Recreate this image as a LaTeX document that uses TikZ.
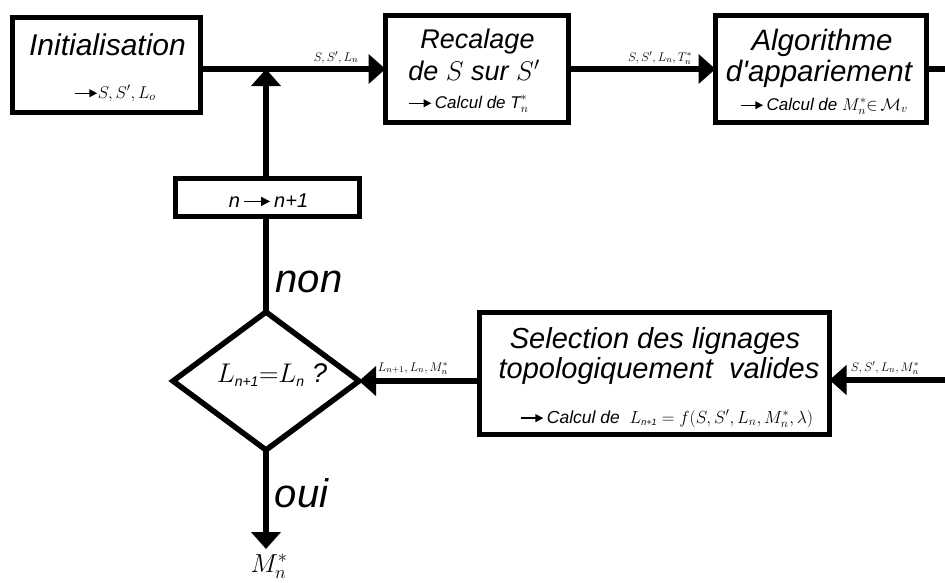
\RequirePackage{fix-cm}
\documentclass[tikz,border=0pt]{standalone}
\usepackage{amsmath}
\usepackage[no-math]{fontspec}
\setmainfont{Liberation Sans}
\usetikzlibrary{arrows.meta,shapes.geometric}
\newcommand{\rarr}{\tikz[baseline=-0.28em]\draw[line width=0.08em,-{Triangle[length=0.45em,width=0.45em]}] (0,0) -- (1.3em,0);}
\newcommand{\fs}[1]{\fontsize{#1}{#1}\selectfont}
\newcommand{\isub}[2]{\mbox{\fs{#1}\itshape #2}}
\begin{document}
\begin{tikzpicture}[x=1pt,y=-1pt,
  box/.style={draw,line width=5.5pt,rectangle,inner sep=0pt,outer sep=0pt},
  conn/.style={line width=6.5pt,-{Triangle[length=17pt,width=29pt]}},
  plain/.style={line width=6.5pt},
  txt/.style={inner sep=0pt,anchor=base,font=\itshape},
  lab/.style={inner sep=0pt,anchor=base}]
\useasboundingbox (0,0) rectangle (945,582);
% boxes
\node[box,minimum width=188pt,minimum height=95pt] (init) at (106.5,65) {};
\node[box,minimum width=183pt,minimum height=107pt] (rec) at (477,69) {};
\node[box,minimum width=211pt,minimum height=107pt] (alg) at (821,69) {};
\node[box,minimum width=350pt,minimum height=122pt] (sel) at (654.5,373.5) {};
\node[box,line width=5pt,minimum width=184pt,minimum height=38pt] (inc) at (267,197) {};
\node[diamond,draw,line width=5.5pt,inner sep=0pt,outer sep=0pt,minimum width=186pt,minimum height=138pt] (dia) at (266,381) {};
% texts
\node[txt,font=\itshape\fs{30}] (tinit) at (107.5,55) {Initialisation};
\node[lab,font=\fs{17}] (sinit) at (115,98) {\rarr$S,S',L_o$};
\node[txt,font=\itshape\fs{27}] (trec1) at (477.5,48) {Recalage};
\node[txt,font=\itshape\fs{27}] (trec2) at (474,80) {de $S$ sur $S'$};
\node[txt,font=\itshape\fs{17}] (srec) at (468.5,108) {\rarr\,Calcul de $\textit{T}_n^*$};
\node[txt,font=\itshape\fs{29.5}] (talg1) at (822,50) {Algorithme};
\node[txt,font=\itshape\fs{29.5}] (talg2) at (819,81) {d\textquotesingle appariement};
\node[txt,font=\itshape\fs{17}] (salg) at (824,110) {\rarr\,Calcul de $M_n^*{\in}\,\mathcal{M}_v$};
\node[txt,font=\itshape\fs{29}] (tsel1) at (655,348) {Selection des lignages};
\node[txt,font=\itshape\fs{29}] (tsel2) at (659,378) {topologiquement\ \ valides};
\node[txt,font=\itshape\fs{17.5}] (ssel) at (666.5,423) {\rarr\,Calcul de\ \ $L_{\isub{9}{n+1}}=f(S,S',L_n,M_n^*,\lambda)$};
\node[txt,font=\itshape\fs{20}] (tinc) at (268.5,207) {n\,\rarr\,n+1};
\node[txt,font=\itshape\fs{27}] (tdia) at (272,382) {$L_{\isub{14}{n+1}}{=}L_{\isub{14}{n}}$ ?};
\node[txt,font=\itshape\fs{40}] (tnon) at (309,292) {non};
\node[txt,font=\itshape\fs{40}] (toui) at (301.5,507) {oui};
\node[lab,font=\fs{26}] (tres) at (269,572) {$M_n^*$};
% connector labels
\node[lab,font=\fs{12.5}] (l1) at (336,61) {$S,S',L_n$};
\node[lab,font=\fs{12.5}] (l2) at (660,61) {$S,S',L_n,T_n^*$};
\node[lab,font=\fs{12.5}] (l3) at (885,371) {$S,S',L_n,M_n^*$};
\node[lab,font=\fs{12.5}] (l4) at (413,371) {$L_{n+1},L_n,M_n^*$};
% connectors
\coordinate (j) at (dia.north |- rec.west);
\coordinate (outR) at (945,69);
\coordinate (inR) at (945,380);
\coordinate (res) at (266,549);
\draw[conn] (init.east |- rec.west) -- (rec.west);
\draw[conn] (inc.north -| j) -- (j);
\draw[plain] (dia.north) -- (dia.north |- inc.south);
\draw[conn] (rec.east) -- (alg.west);
\draw[plain] (alg.east) -- (outR);
\draw[conn] (inR) -- (inR -| sel.east);
\draw[conn] (sel.west |- dia.east) -- (dia.east);
\draw[conn] (dia.south) -- (res);
\end{tikzpicture}
\end{document}
